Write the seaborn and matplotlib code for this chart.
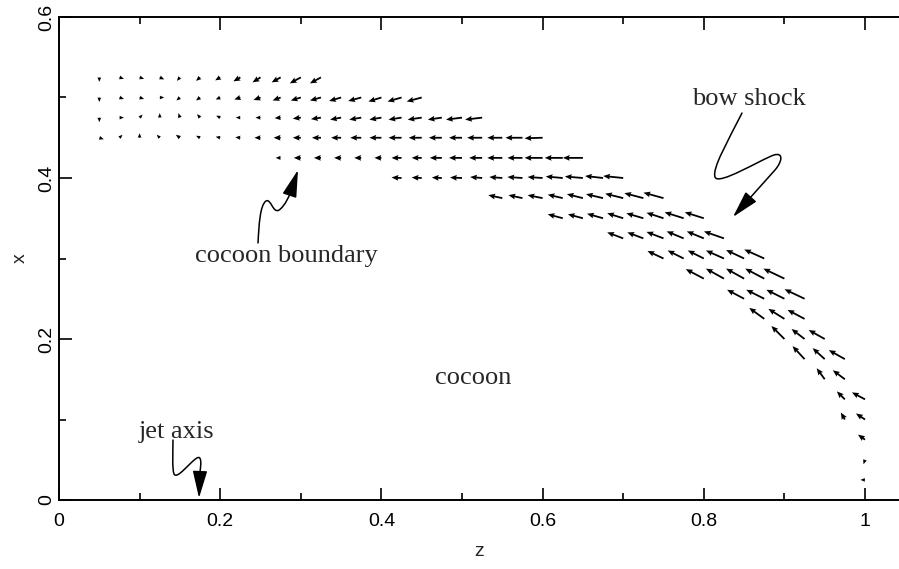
import pandas as pd
import matplotlib
matplotlib.use("Agg")
import matplotlib.pyplot as plt
from matplotlib.path import Path
from matplotlib.patches import FancyArrowPatch
from matplotlib.ticker import MultipleLocator, FormatStrFormatter
import seaborn as sns

# velocity grid spacing (same in z and x)
step = 0.025

# one entry per row of arrows: row height x and z of the first arrow
row_x = [0.525, 0.5, 0.475, 0.45, 0.425, 0.4, 0.375, 0.35, 0.325, 0.3, 0.275,
         0.25, 0.225, 0.2, 0.175, 0.15, 0.125, 0.1, 0.075, 0.05, 0.025]
row_z0 = [0.05, 0.05, 0.05, 0.05, 0.275, 0.425, 0.55, 0.625, 0.7, 0.75, 0.8,
          0.85, 0.875, 0.9, 0.925, 0.95, 0.975, 0.975, 1.0, 1.0, 1.0]

# velocity components (z, x) of each arrow
row_u = [
    [0, 4.5, 4.5, 4.5, -3, -4, -5, -7, -8, -9, -11, -11],
    [0, 4.5, 4.5, 4.5, -3.5, -4, -4.5, -6, -7, -8, -10, -11, -12, -13, -13, -14, -15],
    [0, 4.5, 3, 0, -1.5, -3, -4, -4.5, -5, -6, -8, -10, -11, -12, -12, -13, -14, -14, -16, -17],
    [4.5, 3, 0, -3, -4, -4, -4.5, -5, -6, -7, -8, -9, -10, -11, -12, -13, -13, -13, -13, -15, -15, -17, -18],
    [-5, -7, -7, -7, -7, -7, -10, -10, -12, -13, -13, -15, -15, -18, -18, -20],
    [-10, -10, -10, -12, -12, -13, -15, -15, -17, -18, -18, -20],
    [-14, -14, -15, -15, -16, -17, -18, -19, -20],
    [-15, -15, -16, -16, -17, -17, -19, -19],
    [-16, -16, -17, -17, -17, -20],
    [-16, -16, -16, -18, -18, -20],
    [-18, -18, -18, -19, -21],
    [-17, -18, -18, -20],
    [-15, -16, -17],
    [-13, -13, -16],
    [-12, -12, -16],
    [-8, -12],
    [-8, -13],
    [-4, -9],
    [-7],
    [-1.5],
    [-4.5],
]
row_v = [
    [-4.5, -1.5, -1.5, -2, -3.5, -3.5, -3, -4, -5, -5, -6, -6],
    [-4.5, -1.5, -1.5, 0, -3, -3, -2, -2, -2.5, -3, -3, -3, -3.5, -3.5, -4, -4, -4],
    [-4.5, 0, 3, 4.5, 4.5, 3.5, 2, 0, 0, -0.5, -1, -1.5, -2, -2, -2, -2, -2, -2, -2, -2],
    [-1.5, 3, 4.5, 3, 3, 2, 1, 0.5, 0, 0, 0, 0, 0, 0, 0, 0, 0, 0, 0, 0, 0, 0, -0.5],
    [0, 0, 0, 0, 0, 0, 0, 0, 0, 0, 0, 0, 0, 0, 0, 0],
    [0.5, 0.5, 0.5, 0.5, 1, 1, 1, 1, 1.5, 1.5, 2, 2],
    [3, 3, 3, 3.5, 4, 4, 4.5, 5, 5.5],
    [4, 4, 4.5, 5, 5, 5.5, 6, 6],
    [6, 6, 6.5, 7, 7, 7],
    [7.5, 8, 8, 8, 8.5, 9],
    [9.5, 10, 10, 10, 10],
    [9, 9, 9, 9.5],
    [11, 10, 9],
    [13, 10, 9],
    [13, 11, 9],
    [11, 9],
    [8, 7],
    [7, 6],
    [5],
    [-4.5],
    [0],
]

# annotation labels and their positions (z, x)
labels = ["bow shock", "cocoon boundary", "cocoon", "jet axis"]
label_z = [0.856, 0.2816, 0.5136, 0.146]
label_x = [0.4907, 0.2957, 0.1441, 0.077]

# squiggly pointer curves (cubic bezier control points, z/x)
bow_path = [(0.8474, 0.4807), (0.8300, 0.4460), (0.8102, 0.4124), (0.8139, 0.4012),
            (0.8176, 0.3901), (0.8697, 0.4224), (0.8871, 0.4286),
            (0.8995, 0.4323), (0.8970, 0.4199), (0.8883, 0.4099),
            (0.8362, 0.3516)]
boundary_path = [(0.2469, 0.3193), (0.2481, 0.3416), (0.2494, 0.3665), (0.2568, 0.3714),
                 (0.2630, 0.3752), (0.2655, 0.3553), (0.2730, 0.3602),
                 (0.2804, 0.3652), (0.2866, 0.3789), (0.2891, 0.3876),
                 (0.2965, 0.4099)]
jet_path = [(0.1414, 0.0745), (0.1414, 0.0559), (0.1402, 0.0398), (0.1427, 0.0323),
            (0.1464, 0.0248), (0.1625, 0.0472), (0.1712, 0.0522),
            (0.1774, 0.0559), (0.1762, 0.0435), (0.1749, 0.0348),
            (0.1737, 0.0025)]

rows = []
for x, z0, us, vs in zip(row_x, row_z0, row_u, row_v):
    for k, (u, v) in enumerate(zip(us, vs)):
        rows.append({"z": z0 + k * step, "x": x, "u": u, "v": v})
df = pd.DataFrame(rows)

sns.set_style("ticks", {"xtick.direction": "in", "ytick.direction": "in"})
plt.rcParams["font.family"] = ["Liberation Sans", "DejaVu Sans"]

fig = plt.figure(figsize=(8.99, 5.69), dpi=100)
ax = fig.add_axes([59 / 899, 69 / 569, 840 / 899, 483 / 569])

ax.quiver(df["z"], df["x"], df["u"], df["v"], angles="xy", scale_units="xy",
          scale=806, units="dots", width=1.8, headwidth=3.2, headlength=3.8,
          headaxislength=3.4, minshaft=1, color="black", pivot="tail")

codes = [Path.MOVETO] + [Path.CURVE4] * 9 + [Path.LINETO]
for pts in [bow_path, boundary_path, jet_path]:
    arr = FancyArrowPatch(path=Path(pts, codes),
                          arrowstyle="-|>,head_length=1.2,head_width=0.32",
                          mutation_scale=14, color="black", lw=1.1)
    ax.add_patch(arr)

for txt, z, x in zip(labels, label_z, label_x):
    ax.text(z, x, txt, ha="center", va="baseline", fontsize=19,
            family=["Liberation Serif", "DejaVu Serif"])

ax.set_xlim(0, 840 / 806)
ax.set_ylim(0, 0.6)
ax.xaxis.set_major_locator(MultipleLocator(0.2))
ax.xaxis.set_minor_locator(MultipleLocator(0.1))
ax.yaxis.set_major_locator(MultipleLocator(0.2))
ax.yaxis.set_minor_locator(MultipleLocator(0.1))
ax.xaxis.set_major_formatter(FormatStrFormatter("%g"))
ax.yaxis.set_major_formatter(FormatStrFormatter("%g"))
ax.tick_params(which="both", direction="in", top=True, right=False, width=1.2,
               labelsize=14, colors="black")
ax.tick_params(which="major", length=9)
ax.tick_params(which="minor", length=5)
ax.tick_params(axis="x", pad=9)
ax.tick_params(axis="y", pad=3, labelrotation=90)
plt.setp(ax.get_yticklabels(), va="center")
for s in ["left", "bottom", "top"]:
    ax.spines[s].set_linewidth(1.4)
    ax.spines[s].set_color("black")
ax.spines["right"].set_visible(False)

ax.set_xlabel("z", fontsize=14)
ax.set_ylabel("x", fontsize=14)
ax.xaxis.set_label_coords(0.5, -0.09)
ax.yaxis.set_label_coords(-0.036, 0.5)

fig.savefig("out.png", dpi=100)
